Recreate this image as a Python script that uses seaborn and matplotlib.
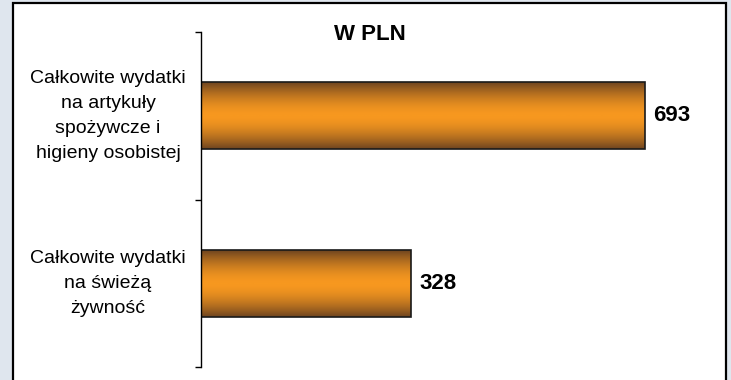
import matplotlib
matplotlib.use('Agg')
import numpy as np
import pandas as pd
import matplotlib.pyplot as plt
import seaborn as sns
from matplotlib.patches import Rectangle
from matplotlib.colors import LinearSegmentedColormap

# data
categories = ['Całkowite wydatki\nna artykuły\nspożywcze i\nhigieny osobistej',
              'Całkowite wydatki\nna świeżą\nżywność']
values = [693, 328]
title = 'W PLN'

df = pd.DataFrame({'kategoria': categories, 'wartosc': values})

sns.set_style('white')
plt.rcParams['font.family'] = ['Liberation Sans', 'DejaVu Sans']
plt.rcParams['text.color'] = 'black'

fig = plt.figure(figsize=(7.31, 3.80), dpi=100, facecolor='#dfe6ee')
# white framed panel on the bluish background (drawn under the axes)
fig.patches.append(Rectangle((13 / 731, -0.05), (726 - 13) / 731, 1 - 3 / 380 + 0.05,
                             transform=fig.transFigure, facecolor='white',
                             edgecolor='black', lw=1.6, zorder=-1))

ax = fig.add_axes([201 / 731, 13 / 380, 512 / 731, 335 / 380])
ax.set_facecolor('none')

sns.barplot(data=df, y='kategoria', x='wartosc', orient='h', width=0.4,
            color='#F7981F', edgecolor='#1a1a1a', linewidth=1.2, ax=ax)

# cylinder-like shading: dark brown at the edges, bright orange in the middle
cmap = LinearSegmentedColormap.from_list('bar', ['#F7981F', '#6E4420'])
t = np.linspace(0, 1, 200)
shade = np.abs(2 * t - 1) ** 1.7
grad = shade[:, None]
for p in ax.patches:
    x0, y0, w, h = p.get_x(), p.get_y(), p.get_width(), p.get_height()
    im = ax.imshow(grad, cmap=cmap, vmin=0, vmax=1, aspect='auto',
                   extent=(x0, x0 + w, y0, y0 + h), origin='lower',
                   interpolation='bilinear', zorder=0.5)
    im.set_clip_path(p)
    p.set_facecolor('none')

ax.bar_label(ax.containers[0], fmt='%d', padding=6, fontsize=16,
             fontweight='bold', color='black')

ax.set_xlim(0, 800)
ax.set_ylim(1.5, -0.5)
ax.set_xticks([])
ax.set_xlabel('')
ax.set_ylabel('')
ax.set_yticks([0, 1])
ax.set_yticklabels(categories, fontsize=14, color='black')
ax.set_yticks([-0.5, 0.5, 1.5], minor=True)
ax.tick_params(axis='y', which='major', length=0, pad=67, left=False)
ax.tick_params(axis='y', which='minor', length=4.5, width=1, color='black', left=True)
for lbl in ax.get_yticklabels():
    lbl.set_horizontalalignment('center')
    lbl.set_verticalalignment('center')
    lbl.set_multialignment('center')
    lbl.set_linespacing(1.62)

for side in ['top', 'right', 'bottom']:
    ax.spines[side].set_visible(False)
ax.spines['left'].set_color('black')
ax.spines['left'].set_linewidth(1)

fig.text(369.5 / 731, 1 - 34.5 / 380, title, ha='center', va='center',
         fontsize=16, fontweight='bold', color='black')

fig.savefig('out.png', dpi=100, facecolor=fig.get_facecolor())
